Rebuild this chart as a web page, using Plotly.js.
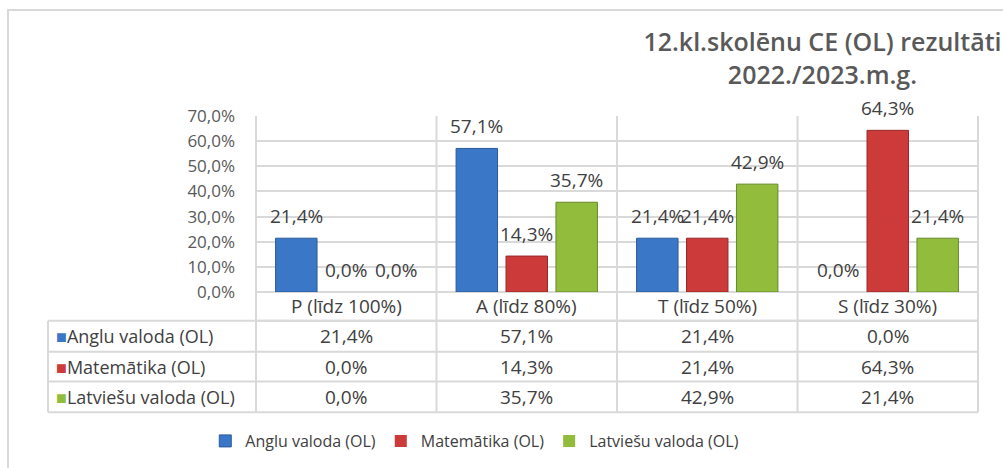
<!DOCTYPE html>
<html>
<head>
<meta charset="utf-8">
<script src="https://cdn.plot.ly/plotly-3.0.1.min.js"></script>
<style>html,body{margin:0;padding:0;background:#fff;}#chart{width:1003px;height:468px;}</style>
</head>
<body>
<div id="chart"></div>
<script>
// ---- data ----
var categories = ["P (līdz 100%)", "A (līdz 80%)", "T (līdz 50%)", "S (līdz 30%)"];
var seriesNames = ["Anglu valoda (OL)", "Matemātika (OL)", "Latviešu valoda (OL)"];
var angluValues = [21.4, 57.1, 21.4, 0.0];
var matematikaValues = [0.0, 14.3, 21.4, 64.3];
var latviesuValues = [0.0, 35.7, 42.9, 21.4];
var yTickValues = [0, 10, 20, 30, 40, 50, 60, 70];
var titleText = "12.kl.skolēnu CE (OL) rezultāti<br>2022./2023.m.g.";

var seriesValues = [angluValues, matematikaValues, latviesuValues];
var colors = ["#3a77c6", "#cc3a3a", "#92bd3c"];
var lineColors = ["#2a5a9a", "#962828", "#67882a"];
var FONT = "Open Sans, sans-serif";
var GRID = "#d9d9d9";

function fmt(v) { return v.toFixed(1).replace(".", ",") + "%"; }

var traces = seriesNames.map(function (name, i) {
  return {
    type: "bar",
    name: name,
    x: categories,
    y: seriesValues[i],
    marker: { color: colors[i],
      line: { color: lineColors[i], width: seriesValues[i].map(function (v) { return v > 0 ? 1 : 0; }) } },
    cliponaxis: false,
    hoverinfo: "skip"
  };
});

// table geometry (paper coords relative to plot area)
var plotTopPx = 116, plotBotPx = 293, plotH = plotBotPx - plotTopPx;
var plotLeftPx = 256, plotW = 978 - 256;
function py(px) { return (plotBotPx - px) / plotH; }
function pxx(px) { return (px - plotLeftPx) / plotW; }
var rowLines = [322, 353, 383, 414].map(py);
var catRowCenter = py(307.5);
var rowCenters = [py(337.5), py(368), py(398.5)];
var tableLeft = pxx(48);
var tableBottom = rowLines[rowLines.length - 1];

var bargap = 0.17, bargroupgap = 0.17;
var slotPx = plotW / categories.length * (1 - bargap) / seriesNames.length;

var shapes = [];
function line(x0, y0, x1, y1, c, w) {
  shapes.push({ type: "line", xref: "paper", yref: "paper", x0: x0, y0: y0, x1: x1, y1: y1,
    line: { color: c || GRID, width: w || 2 }, layer: "below" });
}
line(0, rowLines[0], 1, rowLines[0]);
for (var r = 0; r < rowLines.length; r++) line(tableLeft, rowLines[r], 1, rowLines[r]);
line(tableLeft, rowLines[0], tableLeft, tableBottom);
for (var c = 0; c <= categories.length; c++) {
  line(c / categories.length, 1, c / categories.length, tableBottom);
}
shapes.push({ type: "rect", xref: "paper", yref: "paper", x0: pxx(8), x1: 1.2, y0: -1.5, y1: py(9.5),
  line: { color: "#d9d9d9", width: 2 }, fillcolor: "rgba(0,0,0,0)", layer: "below" });

var annotations = [];
// bar value labels
seriesValues.forEach(function (vals, i) {
  vals.forEach(function (v, j) {
    annotations.push({ xref: "x", yref: "y", x: j, y: v, text: fmt(v), showarrow: false,
      xanchor: "center", yanchor: "bottom", xshift: (i - 1) * slotPx, yshift: 7,
      font: { family: FONT, size: 19, color: "#404040" } });
  });
});
categories.forEach(function (cat, j) {
  annotations.push({ xref: "x", yref: "paper", x: j, y: catRowCenter, text: cat, showarrow: false,
    xanchor: "center", yanchor: "middle", font: { family: FONT, size: 19, color: "#404040" } });
  seriesValues.forEach(function (vals, i) {
    annotations.push({ xref: "x", yref: "paper", x: j, y: rowCenters[i], text: fmt(vals[j]), showarrow: false,
      xanchor: "center", yanchor: "middle", font: { family: FONT, size: 19, color: "#404040" } });
  });
});
seriesNames.forEach(function (name, i) {
  annotations.push({ xref: "paper", yref: "paper", x: pxx(54), y: rowCenters[i],
    text: '<span style="color:' + colors[i] + '">■</span>' + name, showarrow: false,
    xanchor: "left", yanchor: "middle", font: { family: FONT, size: 18, color: "#404040" } });
});

var layout = {
  width: 1003, height: 468,
  margin: { l: 256, r: 25, t: 116, b: 175, pad: 0 },
  paper_bgcolor: "#ffffff", plot_bgcolor: "#ffffff",
  separators: ", ",
  title: {
    text: titleText,
    font: { family: FONT, size: 25, color: "#595959", weight: 600 },
    xref: "container", yref: "container", x: 0.82, xanchor: "center", y: 0.89, yanchor: "top"
  },
  barmode: "group", bargap: bargap, bargroupgap: bargroupgap,
  xaxis: { type: "category", range: [-0.5, 3.5], showticklabels: false, showgrid: false,
    zeroline: false, showline: false, fixedrange: true },
  yaxis: { range: [0, 70], tickmode: "array", tickvals: yTickValues, ticktext: yTickValues.map(fmt),
    showgrid: true, gridcolor: GRID, gridwidth: 2, zeroline: true, zerolinecolor: GRID, zerolinewidth: 2,
    showline: false, ticks: "", ticklabelstandoff: 20,
    tickfont: { family: FONT, size: 17, color: "#595959" }, fixedrange: true },
  showlegend: true,
  legend: { orientation: "h", x: 0.303, xanchor: "center", y: py(441), yanchor: "middle",
    font: { family: FONT, size: 16, color: "#404040" }, itemwidth: 30, traceorder: "normal" },
  shapes: shapes,
  annotations: annotations
};

Plotly.newPlot("chart", traces, layout, { displayModeBar: false, staticPlot: true });
</script>
</body>
</html>
